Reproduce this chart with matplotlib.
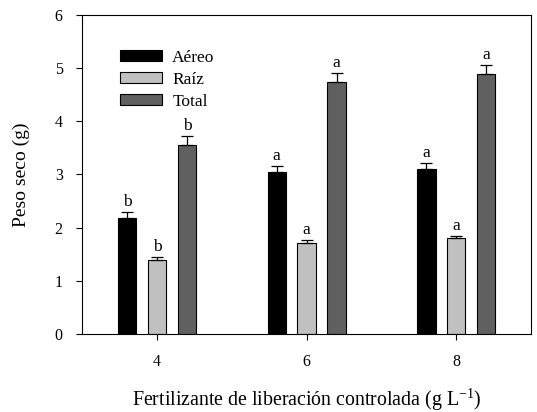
import numpy as np
import matplotlib
matplotlib.use("Agg")
import matplotlib.pyplot as plt

plt.rcParams['font.family'] = ['Liberation Serif', 'DejaVu Serif']

dosis = [4, 6, 8]
series = ['Aéreo', 'Raíz', 'Total']
aereo = [2.18, 3.05, 3.10]
raiz = [1.39, 1.71, 1.81]
total = [3.55, 4.74, 4.89]
err_aereo = [0.11, 0.11, 0.12]
err_raiz = [0.06, 0.06, 0.04]
err_total = [0.17, 0.17, 0.17]
letras_aereo = ['b', 'a', 'a']
letras_raiz = ['b', 'a', 'a']
letras_total = ['b', 'a', 'a']

valores = [aereo, raiz, total]
errores = [err_aereo, err_raiz, err_total]
letras = [letras_aereo, letras_raiz, letras_total]
colores = ['#000000', '#c0c0c0', '#606060']

fig = plt.figure(figsize=(5.37, 4.12), dpi=100)
ax = fig.add_axes([0.153, 0.189, 0.836, 0.775])

x = np.array(dosis, dtype=float)
ancho = 0.245
for i in range(3):
    pos = x + (i - 1) * 0.4
    ax.bar(pos, valores[i], width=ancho, color=colores[i], edgecolor='black',
           linewidth=0.8, label=series[i], zorder=2)
    ax.errorbar(pos, valores[i], yerr=[np.zeros(3), errores[i]], fmt='none',
                ecolor='black', elinewidth=0.9, capsize=4, capthick=0.9, zorder=3)
    for p, v, e, l in zip(pos, valores[i], errores[i], letras[i]):
        ax.text(p, v + e + 0.04, l, ha='center', va='bottom', fontsize=12.5)

ax.set_xlim(3, 9)
ax.set_ylim(0, 6)
ax.set_xticks(dosis)
ax.set_yticks(range(0, 7))
ax.tick_params(axis='both', direction='out', length=4, labelsize=11.5, top=False, right=False)
ax.tick_params(axis='x', pad=10)
ax.tick_params(axis='y', pad=10)
ax.set_ylabel('Peso seco (g)', fontsize=14, labelpad=18)
ax.set_xlabel('Fertilizante de liberación controlada (g L$^{\\mathregular{-1}}$)', fontsize=14.3, labelpad=12)

ax.legend(loc='upper left', bbox_to_anchor=(0.05, 0.94), frameon=False, fontsize=12.5,
          handlelength=2.4, handleheight=0.6, labelspacing=0.35, handletextpad=0.6)

fig.savefig('out.png', dpi=100)
